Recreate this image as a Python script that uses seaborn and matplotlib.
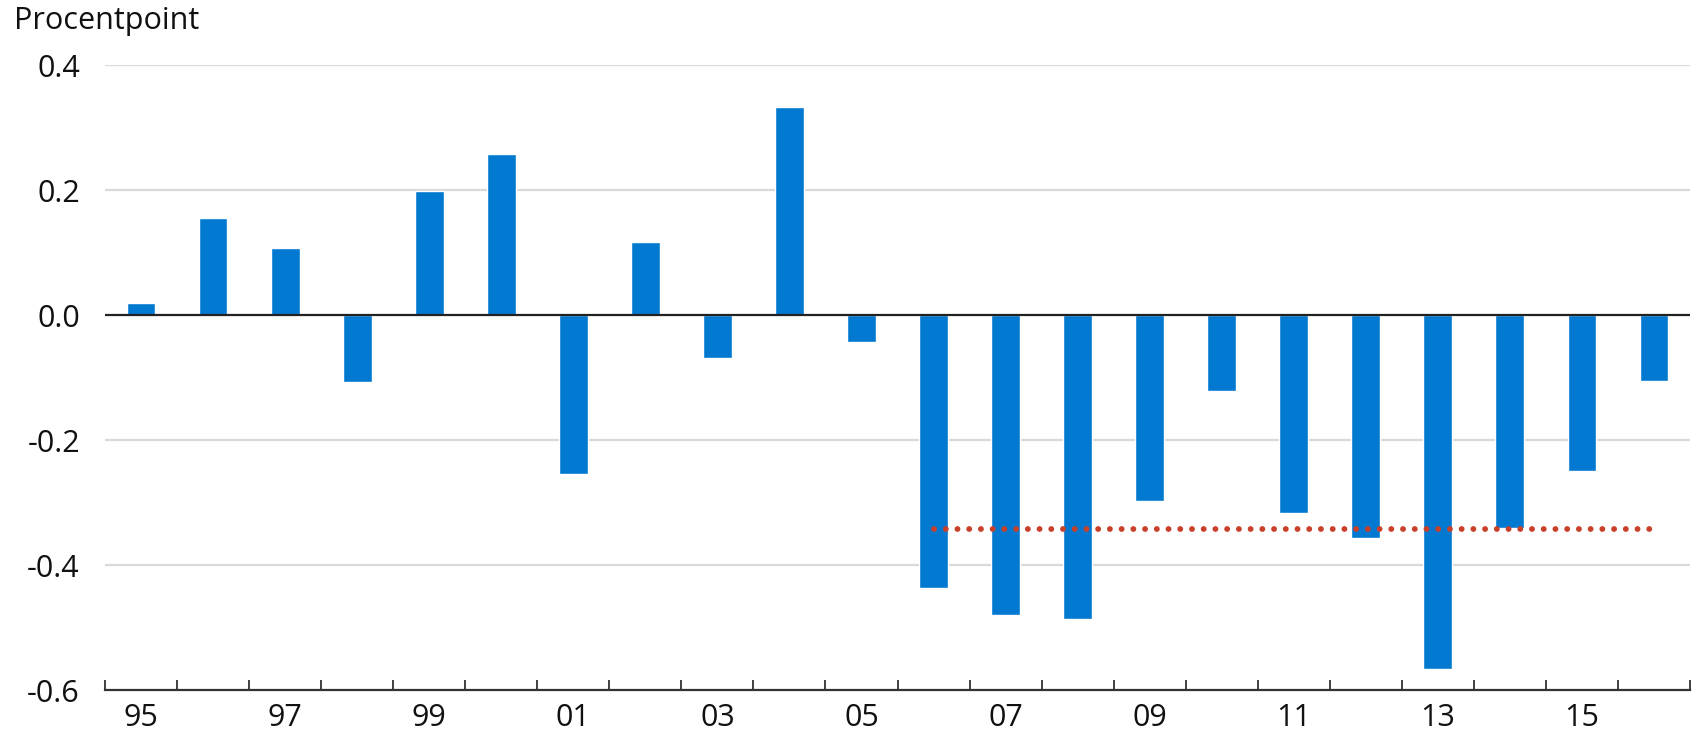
import numpy as np
import pandas as pd
import matplotlib
matplotlib.use("Agg")
import matplotlib.pyplot as plt
import seaborn as sns

# Data
years = list(range(1995, 2017))
labels = [str(y)[2:] for y in years]
values = [0.019, 0.156, 0.107, -0.107, 0.199, 0.258, -0.255, 0.117, -0.069, 0.333, -0.043,
          -0.436, -0.480, -0.487, -0.298, -0.122, -0.317, -0.357, -0.566, -0.340, -0.249, -0.105]
avg_start, avg_end = 2006, 2016
avg_value = -0.342

df = pd.DataFrame({"year": labels, "value": values})

sns.set_theme(style="white")
plt.rcParams["font.family"] = ["Open Sans", "DejaVu Sans"]

fig = plt.figure(figsize=(16.96, 7.35), dpi=100)
ax = fig.add_axes([105 / 1696, 1 - 690 / 735, (1690 - 105) / 1696, (690 - 65) / 735])

sns.barplot(data=df, x="year", y="value", color="#0279D1", saturation=1, width=0.4,
            ax=ax, zorder=3)

# Average line over 2006-2016
i0 = years.index(avg_start)
i1 = years.index(avg_end)
ax.plot([i0, i1], [avg_value, avg_value], color="#C8402A", lw=4.2,
        linestyle=(0, (0.01, 2.0)), dash_capstyle="round", zorder=4)

ax.set_ylim(-0.6, 0.4)
ax.set_xlim(-0.5, len(years) - 0.5)
ax.set_yticks([-0.6, -0.4, -0.2, 0.0, 0.2, 0.4])
ax.set_yticklabels(["-0.6", "-0.4", "-0.2", "0.0", "0.2", "0.4"])
for yv in [-0.4, -0.2, 0.2, 0.4]:
    ax.axhline(yv, color="#D9D9D9", lw=1.6, zorder=1)
ax.axhline(0, color="#222222", lw=1.6, zorder=5)

ax.set_xticks(range(0, len(years), 2))
ax.set_xticklabels(labels[::2])
ax.set_xticks(np.arange(-0.5, len(years)), minor=True)
ax.tick_params(axis="x", which="major", length=0, pad=9, labelsize=22, colors="#111111")
ax.tick_params(axis="x", which="minor", length=7, width=1.3, direction="in",
               color="#333333", bottom=True)
ax.tick_params(axis="y", length=0, pad=18, labelsize=22, colors="#111111")

for s in ["top", "right", "left"]:
    ax.spines[s].set_visible(False)
ax.spines["bottom"].set_color("#333333")
ax.spines["bottom"].set_linewidth(1.6)
ax.set_xlabel("")
ax.set_ylabel("")

fig.text(14 / 1696, 1 - 21 / 735, "Procentpoint", fontsize=22, va="center", ha="left",
         color="#111111")

fig.savefig("out.png", dpi=100)
